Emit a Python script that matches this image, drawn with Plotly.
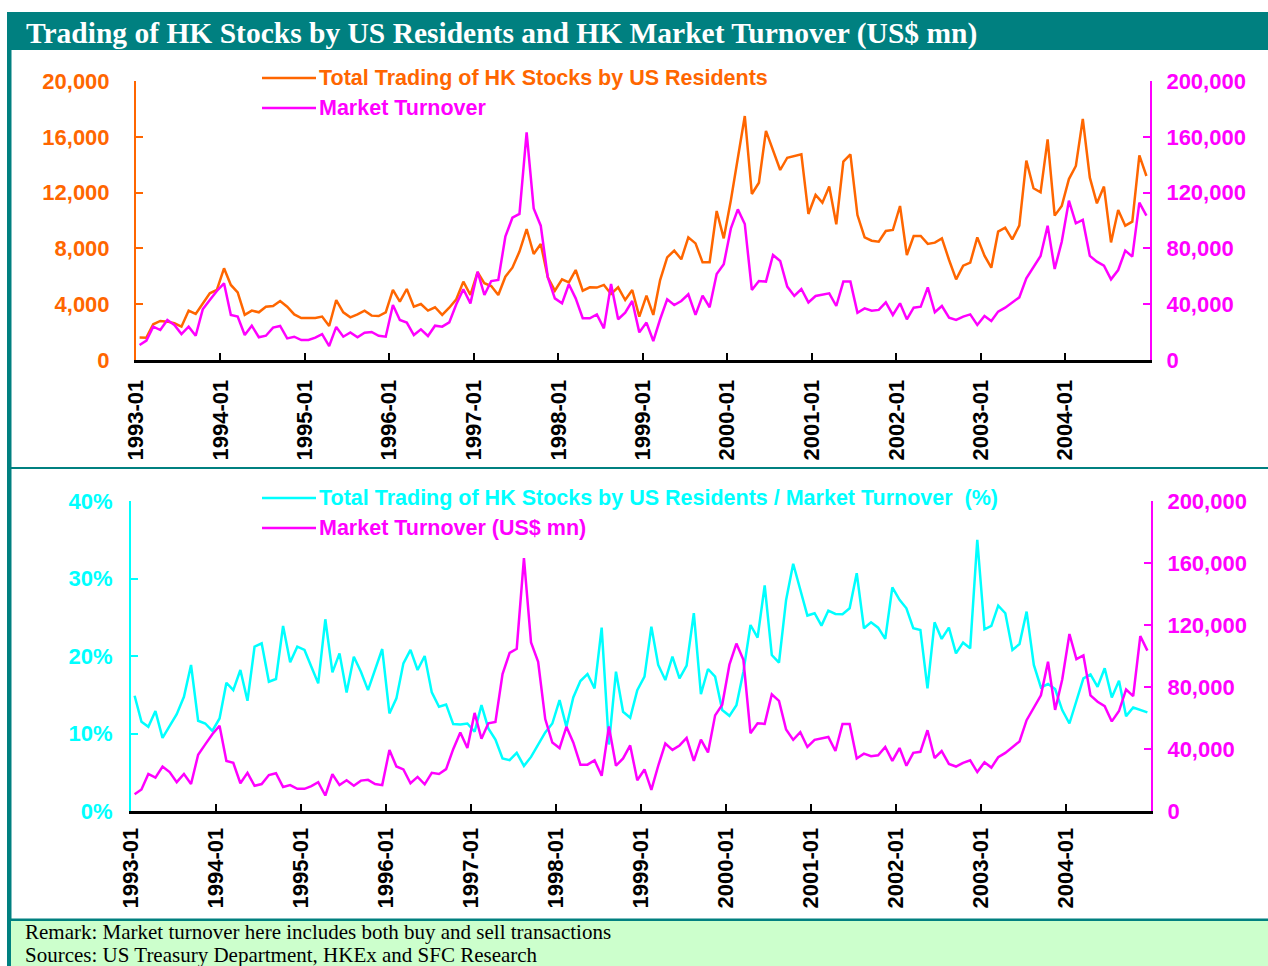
import plotly.graph_objects as go

# ---------------- data ----------------
months = [f"{y}-{m:02d}" for y in range(1993, 2005) for m in range(1, 13)]

total_trading = [
    1620, 1600, 2560, 2800, 2750, 2630, 2390, 3540, 3300, 4060, 4780, 5020,
    6570, 5380, 4850, 3230, 3540, 3420, 3820, 3870, 4230, 3820, 3270, 3010,
    2990, 3010, 3110, 2440, 4300, 3420, 3060, 3270, 3540, 3180, 3150, 3420,
    5020, 4180, 5090, 3820, 4010, 3540, 3780, 3230, 3750, 4350, 5620, 4660,
    6300, 5500, 5300, 4660, 5970, 6620, 7770, 9390, 7600, 8320, 5930, 4970,
    5780, 5570, 6450, 4970, 5210, 5190, 5380, 4730, 5210, 4300, 5020, 3110,
    4610, 3230, 5730, 7360, 7840, 7220, 8790, 8360, 7000, 7000, 10680, 8720,
    11470, 14400, 17490, 11900, 12710, 16420, 15050, 13620, 14500, 14620, 14740, 10470,
    11830, 11280, 12430, 9730, 14220, 14740, 10390, 8790, 8550, 8480, 9250, 9320,
    11040, 7530, 8890, 8890, 8320, 8410, 8720, 7170, 5780, 6760, 6980, 8790,
    7480, 6620, 9200, 9490, 8650, 9630, 14290, 12310, 12020, 15820, 10350, 11040,
    12970, 13910, 17280, 13070, 11230, 12430, 8430, 10750, 9630, 9920, 14670, 13190,
]

market_turnover = [
    10750, 13860, 23900, 21500, 28700, 25100, 18600, 23900, 17400, 36300, 43000, 49500,
    55000, 32300, 31100, 17900, 24600, 16300, 17400, 23200, 24400, 15500, 16700, 14300,
    14300, 16000, 18600, 10000, 23700, 16700, 19800, 16300, 19600, 20100, 17400, 16700,
    39400, 28700, 26800, 17900, 22000, 17200, 24600, 23900, 27000, 39900, 50700, 40600,
    63300, 46600, 56600, 57400, 88400, 102000, 104700, 163200, 108700, 96300, 59300, 44200,
    40600, 54300, 44200, 29900, 29900, 32700, 22700, 54500, 29200, 33900, 42300, 19800,
    26800, 13600, 29200, 43500, 39400, 42300, 47100, 32300, 46100, 37800, 61700, 68600,
    94400, 108000, 97500, 50200, 56600, 56200, 75300, 71000, 52600, 45900, 50900, 41300,
    45900, 47100, 47800, 38700, 56200, 56200, 33900, 37000, 35400, 35900, 41300, 32300,
    40600, 29200, 37500, 38200, 52100, 34200, 38700, 30400, 28700, 31100, 32700, 25100,
    31500, 28000, 34700, 37500, 41300, 44900, 58600, 66900, 74600, 96300, 65200, 84800,
    114200, 98000, 100400, 74600, 70500, 67600, 57800, 64500, 78400, 74100, 112800, 103500,
]

ratio_pct = [
    14.87, 11.51, 10.86, 12.89, 9.44, 10.95, 12.5, 14.74, 18.84, 11.64, 11.29, 10.34,
    11.94, 16.55, 15.6, 18.19, 14.22, 21.2, 21.64, 16.68, 17.03, 23.88, 19.18, 21.2,
    20.78, 18.62, 16.47, 24.74, 17.89, 20.34, 15.3, 19.91, 17.97, 15.6, 18.19, 20.9,
    12.59, 14.53, 19.05, 20.78, 18.19, 20.0, 15.3, 13.45, 13.75, 11.21, 11.16, 11.29,
    10.22, 13.66, 10.65, 9.22, 6.77, 6.55, 7.5, 5.82, 6.98, 8.58, 10.13, 11.29,
    14.31, 10.86, 14.66, 16.77, 17.67, 15.82, 23.66, 8.58, 17.97, 12.8, 12.03, 15.6,
    17.33, 23.79, 18.84, 16.9, 19.91, 17.11, 18.75, 25.52, 15.09, 18.32, 17.33, 13.02,
    12.28, 13.66, 17.97, 24.0, 22.37, 29.1, 20.13, 19.14, 27.24, 31.9, 28.53, 25.22,
    25.52, 23.92, 25.86, 25.43, 25.39, 26.16, 30.69, 23.58, 24.35, 23.66, 22.2, 28.84,
    27.24, 26.16, 23.58, 23.36, 15.82, 24.35, 22.2, 23.66, 20.34, 21.72, 20.99, 35.0,
    23.45, 23.88, 26.51, 25.52, 20.78, 21.55, 25.73, 18.84, 15.95, 16.38, 15.73, 13.02,
    11.29, 14.31, 17.11, 17.63, 16.03, 18.41, 14.66, 16.81, 12.24, 13.36, 13.02, 12.72,
]

year_ticks = ["1993-01", "1994-01", "1995-01", "1996-01", "1997-01", "1998-01",
              "1999-01", "2000-01", "2001-01", "2002-01", "2003-01", "2004-01"]

title_text = "Trading of HK Stocks by US Residents and HK Market Turnover (US$ mn)"
legend_top = ["Total Trading of HK Stocks by US Residents", "Market Turnover"]
legend_bottom = ["Total Trading of HK Stocks by US Residents / Market Turnover  (%)",
                 "Market Turnover (US$ mn)"]
remark_lines = ["Remark: Market turnover here includes both buy and sell transactions",
                "Sources: US Treasury Department, HKEx and SFC Research"]

# ---------------- styling ----------------
W, H = 1268, 966
ORANGE = "#FF6600"
MAGENTA = "#FF00FF"
CYAN = "#00FFFF"
TEAL = "#008080"
GREEN_BG = "#CCFFCC"
SANS = "Liberation Sans, Arial, sans-serif"
SERIF = "Liberation Serif, Times New Roman, serif"
TICK_SIZE = 22
LEG_SIZE = 21.5


def px(x):
    return x / W


def py(y):
    return 1 - y / H


fig = go.Figure()

common = dict(mode="lines", xperiod="M1", xperiodalignment="middle", hoverinfo="x+y")
fig.add_trace(go.Scatter(x=months, y=total_trading, name=legend_top[0],
                         line=dict(color=ORANGE, width=2.5), xaxis="x", yaxis="y", **common))
fig.add_trace(go.Scatter(x=months, y=market_turnover, name=legend_top[1],
                         line=dict(color=MAGENTA, width=2.5), xaxis="x", yaxis="y2", **common))
fig.add_trace(go.Scatter(x=months, y=ratio_pct, name=legend_bottom[0],
                         line=dict(color=CYAN, width=2.5), xaxis="x2", yaxis="y3", **common))
fig.add_trace(go.Scatter(x=months, y=market_turnover, name=legend_bottom[1],
                         line=dict(color=MAGENTA, width=2.5), xaxis="x2", yaxis="y4", **common))


def xaxis_cfg(domain, anchor, standoff):
    return dict(
        type="date", domain=domain, anchor=anchor,
        range=["1993-01-01", "2005-01-01"],
        tickmode="array", tickvals=year_ticks, ticktext=year_ticks,
        tickangle=-90, ticks="inside", ticklen=7, tickwidth=2, tickcolor="black",
        showline=True, linecolor="black", linewidth=3,
        showgrid=False, zeroline=False, ticklabelstandoff=standoff,
        tickfont=dict(family=SANS, size=TICK_SIZE, color="black", weight="bold"),
    )


def yaxis_cfg(domain, anchor, rng, dtick, color, side, fmt=",d", suffix="", overlay=None, standoff=18):
    d = dict(
        domain=domain, anchor=anchor, range=rng, dtick=dtick, tick0=0,
        tickformat=fmt, ticksuffix=suffix, side=side,
        ticks="inside", ticklen=7, tickwidth=2, tickcolor=color,
        showline=True, linecolor=color, linewidth=2,
        showgrid=False, zeroline=False, ticklabelstandoff=standoff,
        tickfont=dict(family=SANS, size=TICK_SIZE, color=color, weight="bold"),
    )
    if overlay:
        d["overlaying"] = overlay
    return d


top_x = [px(136), px(1150)]
top_y = [py(360), py(81)]
bot_x = [px(131), px(1151)]
bot_y = [py(811), py(501)]

fig.update_layout(
    width=W, height=H,
    margin=dict(l=0, r=0, t=0, b=0, autoexpand=False),
    paper_bgcolor="white", plot_bgcolor="rgba(0,0,0,0)",
    showlegend=False,
    xaxis=xaxis_cfg(top_x, "y", 8),
    yaxis=yaxis_cfg(top_y, "x", [0, 20000], 4000, ORANGE, "left", standoff=20),
    yaxis2=yaxis_cfg(top_y, "x", [0, 200000], 40000, MAGENTA, "right", overlay="y", standoff=10),
    xaxis2=xaxis_cfg(bot_x, "y3", 5),
    yaxis3=yaxis_cfg(bot_y, "x2", [0, 40], 10, CYAN, "left", fmt="d", suffix="%", standoff=12),
    yaxis4=yaxis_cfg(bot_y, "x2", [0, 200000], 40000, MAGENTA, "right", overlay="y3", standoff=10),
)

shapes = []
# title bar and frame
shapes.append(dict(type="rect", xref="paper", yref="paper", x0=px(7), x1=px(1268), y0=py(50), y1=py(12),
                   fillcolor=TEAL, line=dict(width=0), layer="below"))
shapes.append(dict(type="rect", xref="paper", yref="paper", x0=px(7), x1=px(11.5), y0=py(966), y1=py(12),
                   fillcolor=TEAL, line=dict(width=0), layer="below"))
# separator between panels
shapes.append(dict(type="rect", xref="paper", yref="paper", x0=px(11), x1=px(1268), y0=py(469), y1=py(467),
                   fillcolor=TEAL, line=dict(width=0), layer="below"))
# remark box
shapes.append(dict(type="rect", xref="paper", yref="paper", x0=px(11), x1=px(1268), y0=py(966), y1=py(921),
                   fillcolor=GREEN_BG, line=dict(width=0), layer="below"))
shapes.append(dict(type="rect", xref="paper", yref="paper", x0=px(11), x1=px(1268), y0=py(921), y1=py(918.5),
                   fillcolor=TEAL, line=dict(width=0), layer="below"))

annotations = [
    dict(text=title_text, xref="paper", yref="paper", x=px(24), y=py(33), xanchor="left", yanchor="middle",
         showarrow=False, font=dict(family=SERIF, size=29.5, color="white", weight="bold")),
    dict(text=remark_lines[0], xref="paper", yref="paper", x=px(23), y=py(932), xanchor="left", yanchor="middle",
         showarrow=False, font=dict(family=SERIF, size=21, color="black")),
    dict(text=remark_lines[1], xref="paper", yref="paper", x=px(23), y=py(955), xanchor="left", yanchor="middle",
         showarrow=False, font=dict(family=SERIF, size=21, color="black")),
]

# manual legends
legend_rows = [
    (legend_top[0], ORANGE, 78), (legend_top[1], MAGENTA, 108),
    (legend_bottom[0], CYAN, 498), (legend_bottom[1], MAGENTA, 528),
]
for label, color, yy in legend_rows:
    shapes.append(dict(type="line", xref="paper", yref="paper", x0=px(262), x1=px(316), y0=py(yy), y1=py(yy),
                       line=dict(color=color, width=2.5)))
    annotations.append(dict(text=label, xref="paper", yref="paper", x=px(317), y=py(yy),
                            xanchor="left", yanchor="middle", showarrow=False,
                            font=dict(family=SANS, size=LEG_SIZE, color=color, weight="bold")))

fig.update_layout(shapes=shapes, annotations=annotations)

fig.write_html(
    "out.html",
    config={"displayModeBar": False},
    post_script="document.body.style.margin='0px';document.documentElement.style.overflow='hidden';document.body.style.overflow='hidden';",
)
